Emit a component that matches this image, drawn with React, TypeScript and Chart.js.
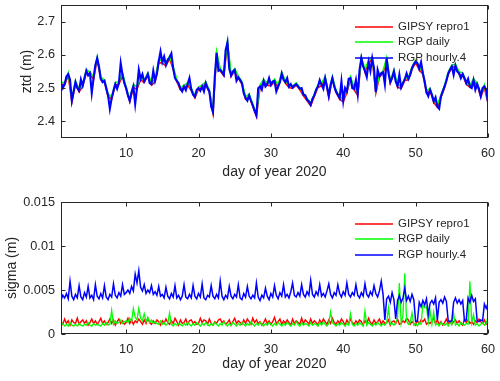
import React, { useEffect, useRef } from "react";
import { Chart, registerables } from "chart.js";

Chart.register(...registerables);

// ---------- data ----------
const DAY_START = 1;
const STEP_QUARTER = 0.25;
const STEP_HALF = 0.5;
const X_MIN = 1;
const X_MAX = 60;
const X_TICKS = [10, 20, 30, 40, 50, 60];
const X_TITLE = "day of year 2020";

const ZTD_MIN = 2.35;
const ZTD_MAX = 2.75;
const ZTD_TICKS = [2.4, 2.5, 2.6, 2.7];
const ZTD_TICK_LABELS = ["2.4", "2.5", "2.6", "2.7"];
const ZTD_TITLE = "ztd (m)";

const SIGMA_MIN = 0;
const SIGMA_MAX = 0.015;
const SIGMA_TICKS = [0, 0.005, 0.01, 0.015];
const SIGMA_TICK_LABELS = ["0", "0.005", "0.01", "0.015"];
const SIGMA_TITLE = "sigma (m)";

const SERIES_NAMES = ["GIPSY repro1", "RGP daily", "RGP hourly.4"];
const SERIES_COLORS = ["#ff0000", "#00ff00", "#0000ff"];

// ZTD, RGP hourly.4, every 0.25 day from day 1
const ztdHourly = [
  2.515, 2.500, 2.512, 2.535,
  2.542, 2.525, 2.462, 2.490,
  2.518, 2.500, 2.492, 2.526,
  2.508, 2.530, 2.552, 2.538,
  2.545, 2.485, 2.530, 2.570,
  2.590, 2.565, 2.528, 2.518,
  2.522, 2.500, 2.478, 2.438,
  2.470, 2.492, 2.512, 2.498,
  2.515, 2.575, 2.540, 2.515,
  2.500, 2.478, 2.462, 2.488,
  2.505, 2.452, 2.500, 2.555,
  2.528, 2.542, 2.520, 2.530,
  2.542, 2.515, 2.512, 2.552,
  2.522, 2.542, 2.580, 2.610,
  2.578, 2.595, 2.570, 2.585,
  2.592, 2.604, 2.560, 2.530,
  2.522, 2.515, 2.498, 2.490,
  2.505, 2.494, 2.512, 2.530,
  2.496, 2.480, 2.474, 2.495,
  2.500, 2.492, 2.505, 2.490,
  2.515, 2.500, 2.490, 2.445,
  2.428, 2.535, 2.606, 2.552,
  2.555, 2.548, 2.540, 2.615,
  2.637, 2.558, 2.538, 2.550,
  2.555, 2.522, 2.532, 2.525,
  2.515, 2.485, 2.470, 2.462,
  2.478, 2.462, 2.448, 2.432,
  2.418, 2.500, 2.505, 2.495,
  2.522, 2.505, 2.512, 2.530,
  2.510, 2.520, 2.522, 2.490,
  2.505, 2.518, 2.544, 2.525,
  2.518, 2.530, 2.505, 2.512,
  2.502, 2.508, 2.512, 2.505,
  2.498, 2.500, 2.480, 2.478,
  2.465, 2.460, 2.450, 2.468,
  2.478, 2.495, 2.505, 2.524,
  2.510, 2.498, 2.530, 2.505,
  2.476, 2.510, 2.530, 2.505,
  2.490, 2.480, 2.470, 2.520,
  2.462, 2.500, 2.490, 2.528,
  2.530, 2.500, 2.498, 2.524,
  2.482, 2.555, 2.590, 2.565,
  2.552, 2.534, 2.578, 2.552,
  2.590, 2.560, 2.488, 2.555,
  2.536, 2.545, 2.548, 2.512,
  2.588, 2.545, 2.518, 2.530,
  2.550, 2.520, 2.506, 2.540,
  2.502, 2.515, 2.526, 2.544,
  2.528, 2.540, 2.560, 2.572,
  2.580, 2.575, 2.558, 2.578,
  2.545, 2.520, 2.488, 2.476,
  2.495, 2.480, 2.460, 2.472,
  2.445, 2.438, 2.475, 2.490,
  2.505, 2.522, 2.544, 2.555,
  2.565, 2.540, 2.568, 2.550,
  2.545, 2.530, 2.542, 2.530,
  2.515, 2.528, 2.505, 2.500,
  2.524, 2.495, 2.512, 2.498,
  2.476, 2.500, 2.505, 2.495,
  2.458,
];

// ZTD, RGP daily, every 0.5 day from day 1
const ztdDaily = [
  2.518, 2.515, 2.546, 2.468, 2.521, 2.497, 2.513, 2.556, 2.548, 2.535,
  2.593, 2.532, 2.525, 2.483, 2.474, 2.516, 2.520, 2.546, 2.503, 2.466,
  2.510, 2.504, 2.532, 2.524, 2.546, 2.516, 2.527, 2.585, 2.582, 2.575,
  2.596, 2.564, 2.526, 2.502, 2.508, 2.516, 2.500, 2.478, 2.503, 2.509,
  2.518, 2.494, 2.433, 2.609, 2.559, 2.545, 2.641, 2.542, 2.558, 2.537,
  2.519, 2.474, 2.482, 2.452, 2.423, 2.509, 2.526, 2.516, 2.514, 2.527,
  2.509, 2.548, 2.522, 2.509, 2.506, 2.516, 2.502, 2.484, 2.469, 2.455,
  2.482, 2.509, 2.514, 2.535, 2.480, 2.534, 2.494, 2.474, 2.467, 2.494,
  2.534, 2.502, 2.486, 2.594, 2.556, 2.583, 2.594, 2.492, 2.540, 2.552,
  2.592, 2.522, 2.554, 2.510, 2.506, 2.530, 2.532, 2.564, 2.584, 2.562,
  2.549, 2.492, 2.499, 2.464, 2.449, 2.479, 2.509, 2.548, 2.569, 2.572,
  2.549, 2.546, 2.519, 2.509, 2.528, 2.516, 2.480, 2.509, 2.462,
];

// ZTD, GIPSY repro1, every 0.5 day from day 1
const ztdGipsy = [
  2.512, 2.509, 2.538, 2.458, 2.515, 2.489, 2.505, 2.548, 2.541, 2.527,
  2.586, 2.525, 2.519, 2.475, 2.466, 2.509, 2.512, 2.537, 2.497, 2.459,
  2.502, 2.497, 2.525, 2.517, 2.539, 2.509, 2.519, 2.577, 2.575, 2.567,
  2.589, 2.557, 2.519, 2.495, 2.502, 2.509, 2.493, 2.471, 2.497, 2.502,
  2.512, 2.487, 2.425, 2.603, 2.552, 2.537, 2.633, 2.535, 2.552, 2.529,
  2.512, 2.467, 2.475, 2.445, 2.415, 2.502, 2.519, 2.509, 2.507, 2.519,
  2.502, 2.541, 2.515, 2.502, 2.499, 2.509, 2.495, 2.477, 2.462, 2.447,
  2.475, 2.502, 2.507, 2.527, 2.473, 2.527, 2.487, 2.467, 2.459, 2.487,
  2.527, 2.495, 2.479, 2.587, 2.549, 2.575, 2.587, 2.485, 2.533, 2.545,
  2.585, 2.515, 2.547, 2.503, 2.499, 2.523, 2.525, 2.557, 2.577, 2.555,
  2.542, 2.485, 2.492, 2.457, 2.442, 2.472, 2.502, 2.541, 2.562, 2.565,
  2.542, 2.539, 2.512, 2.502, 2.521, 2.509, 2.473, 2.502, 2.455,
];

// sigma, RGP hourly.4, every 0.25 day from day 1
const sigmaHourly = [
  0.0038, 0.0044, 0.0041, 0.0046,
  0.0040, 0.0060, 0.0043, 0.0039,
  0.0045, 0.0041, 0.0055, 0.0042,
  0.0039, 0.0047, 0.0042, 0.0054,
  0.0041, 0.0044, 0.0039, 0.0056,
  0.0043, 0.0040, 0.0046, 0.0041,
  0.0055, 0.0042, 0.0039, 0.0045,
  0.0042, 0.0057, 0.0044, 0.0041,
  0.0047, 0.0043, 0.0056, 0.0045,
  0.0047, 0.0050, 0.0046, 0.0054,
  0.0049, 0.0068, 0.0058, 0.0072,
  0.0053, 0.0049, 0.0056, 0.0046,
  0.0050, 0.0047, 0.0055, 0.0045,
  0.0048, 0.0044, 0.0054, 0.0043,
  0.0045, 0.0041, 0.0053, 0.0043,
  0.0040, 0.0046, 0.0042, 0.0055,
  0.0041, 0.0044, 0.0039, 0.0043,
  0.0056, 0.0042, 0.0040, 0.0045,
  0.0041, 0.0055, 0.0043, 0.0040,
  0.0046, 0.0042, 0.0057, 0.0041,
  0.0039, 0.0044, 0.0042, 0.0055,
  0.0043, 0.0040, 0.0045, 0.0041,
  0.0060, 0.0043, 0.0039, 0.0044,
  0.0041, 0.0054, 0.0043, 0.0040,
  0.0045, 0.0042, 0.0056, 0.0041,
  0.0039, 0.0046, 0.0042, 0.0054,
  0.0043, 0.0040, 0.0044, 0.0041,
  0.0058, 0.0042, 0.0038, 0.0044,
  0.0041, 0.0052, 0.0043, 0.0039,
  0.0046, 0.0042, 0.0055, 0.0044,
  0.0040, 0.0047, 0.0043, 0.0056,
  0.0042, 0.0045, 0.0041, 0.0048,
  0.0058, 0.0044, 0.0042, 0.0047,
  0.0043, 0.0056, 0.0045, 0.0042,
  0.0048, 0.0044, 0.0061, 0.0045,
  0.0042, 0.0048, 0.0044, 0.0056,
  0.0043, 0.0046, 0.0042, 0.0049,
  0.0057, 0.0045, 0.0041, 0.0047,
  0.0044, 0.0056, 0.0046, 0.0042,
  0.0048, 0.0044, 0.0058, 0.0045,
  0.0042, 0.0047, 0.0044, 0.0056,
  0.0044, 0.0041, 0.0047, 0.0043,
  0.0057, 0.0045, 0.0042, 0.0048,
  0.0044, 0.0055, 0.0046, 0.0042,
  0.0049, 0.0060, 0.0045, 0.0016,
  0.0040, 0.0043, 0.0036, 0.0047,
  0.0039, 0.0017, 0.0038, 0.0044,
  0.0036, 0.0041, 0.0052, 0.0038,
  0.0043, 0.0037, 0.0045, 0.0039,
  0.0014, 0.0015, 0.0036, 0.0031,
  0.0038, 0.0033, 0.0040, 0.0022,
  0.0035, 0.0038, 0.0034, 0.0041,
  0.0016, 0.0036, 0.0039, 0.0035,
  0.0042, 0.0037, 0.0015, 0.0014,
  0.0015, 0.0036, 0.0041, 0.0035,
  0.0039, 0.0034, 0.0038, 0.0015,
  0.0016, 0.0041, 0.0036, 0.0044,
  0.0037, 0.0040, 0.0015, 0.0014,
  0.0016, 0.0015, 0.0034, 0.0029,
  0.0035,
];

// sigma, RGP daily, every 0.25 day from day 1
const sigmaDaily = [
  0.0010, 0.0012, 0.0009, 0.0011,
  0.0009, 0.0013, 0.0010, 0.0009,
  0.0011, 0.0009, 0.0012, 0.0010,
  0.0009, 0.0011, 0.0010, 0.0013,
  0.0010, 0.0009, 0.0012, 0.0010,
  0.0011, 0.0010, 0.0009, 0.0012,
  0.0010, 0.0013, 0.0010, 0.0011,
  0.0027, 0.0011, 0.0015, 0.0012,
  0.0013, 0.0016, 0.0012, 0.0014,
  0.0015, 0.0013, 0.0018, 0.0014,
  0.0029, 0.0019, 0.0016, 0.0029,
  0.0018, 0.0015, 0.0023, 0.0014,
  0.0019, 0.0013, 0.0016, 0.0012,
  0.0014, 0.0012, 0.0011, 0.0015,
  0.0011, 0.0013, 0.0010, 0.0012,
  0.0024, 0.0011, 0.0009, 0.0012,
  0.0010, 0.0012, 0.0011, 0.0009,
  0.0012, 0.0010, 0.0013, 0.0011,
  0.0009, 0.0012, 0.0010, 0.0013,
  0.0011, 0.0009, 0.0012, 0.0010,
  0.0013, 0.0011, 0.0009, 0.0012,
  0.0010, 0.0013, 0.0011, 0.0009,
  0.0012, 0.0010, 0.0014, 0.0011,
  0.0009, 0.0012, 0.0010, 0.0013,
  0.0011, 0.0009, 0.0012, 0.0010,
  0.0013, 0.0011, 0.0009, 0.0012,
  0.0010, 0.0014, 0.0011, 0.0009,
  0.0012, 0.0010, 0.0013, 0.0011,
  0.0009, 0.0012, 0.0010, 0.0013,
  0.0011, 0.0009, 0.0012, 0.0010,
  0.0013, 0.0011, 0.0009, 0.0012,
  0.0010, 0.0013, 0.0011, 0.0009,
  0.0012, 0.0010, 0.0014, 0.0011,
  0.0009, 0.0013, 0.0010, 0.0012,
  0.0011, 0.0009, 0.0013, 0.0010,
  0.0012, 0.0011, 0.0009, 0.0013,
  0.0010, 0.0014, 0.0011, 0.0009,
  0.0012, 0.0025, 0.0013, 0.0011,
  0.0009, 0.0012, 0.0010, 0.0013,
  0.0011, 0.0009, 0.0012, 0.0010,
  0.0023, 0.0011, 0.0009, 0.0012,
  0.0010, 0.0013, 0.0011, 0.0009,
  0.0026, 0.0010, 0.0013, 0.0011,
  0.0009, 0.0012, 0.0010, 0.0013,
  0.0011, 0.0009, 0.0012, 0.0010,
  0.0013, 0.0030, 0.0011, 0.0012,
  0.0010, 0.0013, 0.0018, 0.0058,
  0.0012, 0.0021, 0.0069, 0.0015,
  0.0011, 0.0013, 0.0024, 0.0010,
  0.0012, 0.0009, 0.0013, 0.0011,
  0.0033, 0.0030, 0.0031, 0.0013,
  0.0026, 0.0011, 0.0025, 0.0010,
  0.0012, 0.0009, 0.0013, 0.0011,
  0.0010, 0.0012, 0.0009, 0.0013,
  0.0011, 0.0023, 0.0010, 0.0012,
  0.0009, 0.0013, 0.0011, 0.0010,
  0.0012, 0.0011, 0.0060, 0.0013,
  0.0022, 0.0010, 0.0012, 0.0009,
  0.0011, 0.0013, 0.0010, 0.0012,
  0.0020,
];

// sigma, GIPSY repro1, every 0.25 day from day 1
const sigmaGipsy = [
  0.0014, 0.0011, 0.0017, 0.0012,
  0.0015, 0.0010, 0.0016, 0.0013,
  0.0012, 0.0018, 0.0011, 0.0014,
  0.0016, 0.0012, 0.0015, 0.0010,
  0.0013, 0.0017, 0.0012, 0.0015,
  0.0011, 0.0014, 0.0018, 0.0012,
  0.0015, 0.0011, 0.0013, 0.0017,
  0.0012, 0.0016, 0.0010, 0.0014,
  0.0017, 0.0012, 0.0015, 0.0011,
  0.0013, 0.0018, 0.0012, 0.0016,
  0.0011, 0.0015, 0.0013, 0.0017,
  0.0014, 0.0011, 0.0016, 0.0012,
  0.0018, 0.0013, 0.0011, 0.0015,
  0.0012, 0.0016, 0.0014, 0.0010,
  0.0015, 0.0012, 0.0017, 0.0013,
  0.0011, 0.0015, 0.0012, 0.0018,
  0.0014, 0.0010, 0.0016, 0.0012,
  0.0013, 0.0017, 0.0011, 0.0015,
  0.0016, 0.0012, 0.0014, 0.0011,
  0.0012, 0.0018, 0.0013, 0.0016,
  0.0015, 0.0011, 0.0017, 0.0012,
  0.0010, 0.0014, 0.0012, 0.0016,
  0.0017, 0.0013, 0.0015, 0.0011,
  0.0013, 0.0016, 0.0010, 0.0014,
  0.0018, 0.0012, 0.0015, 0.0013,
  0.0011, 0.0016, 0.0012, 0.0017,
  0.0014, 0.0011, 0.0018, 0.0013,
  0.0016, 0.0012, 0.0014, 0.0010,
  0.0013, 0.0017, 0.0012, 0.0015,
  0.0011, 0.0014, 0.0019, 0.0012,
  0.0014, 0.0017, 0.0011, 0.0015,
  0.0012, 0.0016, 0.0013, 0.0010,
  0.0017, 0.0012, 0.0015, 0.0013,
  0.0011, 0.0018, 0.0012, 0.0016,
  0.0014, 0.0011, 0.0017, 0.0012,
  0.0015, 0.0013, 0.0010, 0.0016,
  0.0012, 0.0017, 0.0014, 0.0011,
  0.0016, 0.0012, 0.0018, 0.0013,
  0.0011, 0.0015, 0.0012, 0.0017,
  0.0014, 0.0010, 0.0016, 0.0012,
  0.0017, 0.0013, 0.0011, 0.0015,
  0.0012, 0.0016, 0.0014, 0.0010,
  0.0015, 0.0012, 0.0018, 0.0013,
  0.0011, 0.0016, 0.0012, 0.0014,
  0.0017, 0.0011, 0.0015, 0.0012,
  0.0013, 0.0016, 0.0010, 0.0014,
  0.0015, 0.0012, 0.0017, 0.0011,
  0.0012, 0.0015, 0.0013, 0.0018,
  0.0016, 0.0011, 0.0014, 0.0012,
  0.0010, 0.0015, 0.0012, 0.0016,
  0.0014, 0.0017, 0.0011, 0.0013,
  0.0012, 0.0015, 0.0018, 0.0012,
  0.0016, 0.0011, 0.0014, 0.0010,
  0.0013, 0.0017, 0.0012, 0.0015,
  0.0011, 0.0014, 0.0016, 0.0012,
  0.0015, 0.0012, 0.0010, 0.0017,
  0.0013, 0.0016, 0.0012, 0.0014,
  0.0011, 0.0015, 0.0013, 0.0017,
  0.0014, 0.0012, 0.0016, 0.0011,
  0.0013,
];

// ---------- styling ----------
const FONT = "'Liberation Sans', Arial, Helvetica, sans-serif";
const INK = "#262626";
const W = 500;

type Pt = { x: number; y: number };
const toPoints = (vals: number[], step: number): Pt[] =>
  vals.map((y, i) => ({ x: DAY_START + i * step, y }));

const framePlugin = {
  id: "matlabFrame",
  afterDatasetsDraw(chart: any) {
    const { ctx, chartArea: a, scales } = chart;
    const L = Math.round(a.left) + 0.5;
    const R = Math.round(a.right) - 0.5;
    const T = Math.round(a.top) + 0.5;
    const B = Math.round(a.bottom) - 0.5;
    ctx.save();
    ctx.strokeStyle = INK;
    ctx.lineWidth = 1;
    ctx.strokeRect(L, T, R - L, B - T);
    const tl = 4;
    ctx.beginPath();
    for (const t of scales.x.ticks) {
      const px = Math.round(scales.x.getPixelForValue(t.value)) + 0.5;
      ctx.moveTo(px, B);
      ctx.lineTo(px, B - tl);
      ctx.moveTo(px, T);
      ctx.lineTo(px, T + tl);
    }
    for (const t of scales.y.ticks) {
      const py = Math.round(scales.y.getPixelForValue(t.value)) + 0.5;
      ctx.moveTo(L, py);
      ctx.lineTo(L + tl, py);
      ctx.moveTo(R, py);
      ctx.lineTo(R - tl, py);
    }
    ctx.stroke();
    ctx.restore();
  },
  afterDraw(chart: any) {
    const { ctx, chartArea: a } = chart;
    ctx.save();
    ctx.font = `11.5px ${FONT}`;
    ctx.textBaseline = "middle";
    ctx.textAlign = "left";
    ctx.setLineDash([]);
    for (let i = 0; i < SERIES_NAMES.length; i++) {
      const y = Math.round(a.top + 22 + i * 15.3);
      ctx.beginPath();
      ctx.strokeStyle = SERIES_COLORS[i];
      ctx.lineWidth = 1.5;
      ctx.moveTo(a.right - 133, y);
      ctx.lineTo(a.right - 95, y);
      ctx.stroke();
      ctx.fillStyle = INK;
      ctx.fillText(SERIES_NAMES[i], a.right - 90, y);
    }
    ctx.restore();
  },
};

function buildConfig(p: {
  red: Pt[];
  green: Pt[];
  blue: Pt[];
  widths: number[];
  yMin: number;
  yMax: number;
  yTicks: number[];
  yLabels: string[];
  yTitle: string;
  yTitlePad: number;
  topPad: number;
  xAxisHeight: number;
  xTitlePad: number;
}): any {
  const ds = (label: string, data: Pt[], color: string, order: number, width: number) => ({
    label,
    data,
    borderColor: color,
    backgroundColor: color,
    borderWidth: width,
    pointRadius: 0,
    fill: false,
    tension: 0,
    order,
  });
  return {
    type: "line",
    data: {
      datasets: [
        ds(SERIES_NAMES[0], p.red, SERIES_COLORS[0], 3, p.widths[0]),
        ds(SERIES_NAMES[1], p.green, SERIES_COLORS[1], 2, p.widths[1]),
        ds(SERIES_NAMES[2], p.blue, SERIES_COLORS[2], 1, p.widths[2]),
      ],
    },
    options: {
      animation: false,
      responsive: false,
      maintainAspectRatio: false,
      parsing: false,
      normalized: true,
      events: [],
      layout: { padding: { left: 0, right: 12, top: p.topPad, bottom: 0 } },
      plugins: { legend: { display: false }, tooltip: { enabled: false }, title: { display: false } },
      scales: {
        x: {
          type: "linear",
          min: X_MIN,
          max: X_MAX,
          afterBuildTicks: (s: any) => {
            s.ticks = X_TICKS.map((v) => ({ value: v }));
          },
          afterFit: (s: any) => {
            s.height = p.xAxisHeight;
            s.paddingLeft = 0;
            s.paddingRight = 0;
          },
          grid: { display: false, drawTicks: false },
          border: { display: false },
          ticks: {
            autoSkip: false,
            maxRotation: 0,
            padding: 8,
            color: INK,
            font: { family: FONT, size: 12.7 },
            callback: (v: number) => String(v),
          },
          title: {
            display: true,
            text: X_TITLE,
            color: INK,
            font: { family: FONT, size: 14 },
            padding: { top: 0, bottom: p.xTitlePad },
          },
        },
        y: {
          type: "linear",
          min: p.yMin,
          max: p.yMax,
          afterBuildTicks: (s: any) => {
            s.ticks = p.yTicks.map((v) => ({ value: v }));
          },
          afterFit: (s: any) => {
            s.width = 61;
            s.paddingTop = 0;
            s.paddingBottom = 0;
          },
          grid: { display: false, drawTicks: false },
          border: { display: false },
          ticks: {
            autoSkip: false,
            padding: 6,
            color: INK,
            font: { family: FONT, size: 12.7 },
            callback: (_v: number, i: number) => p.yLabels[i],
          },
          title: {
            display: true,
            text: p.yTitle,
            color: INK,
            font: { family: FONT, size: 14 },
            padding: { top: p.yTitlePad, bottom: 0 },
          },
        },
      },
    },
    plugins: [framePlugin],
  };
}

function SubPlot({ top, height, make }: { top: number; height: number; make: () => any }) {
  const ref = useRef<HTMLCanvasElement>(null);
  useEffect(() => {
    if (!ref.current) return;
    const chart = new Chart(ref.current, make());
    return () => chart.destroy();
  }, []);
  return (
    <canvas
      ref={ref}
      width={W}
      height={height}
      style={{ position: "absolute", left: 0, top, width: W, height, display: "block" }}
    />
  );
}

export default function App() {
  const makeTop = () =>
    buildConfig({
      red: toPoints(ztdGipsy, STEP_HALF),
      green: toPoints(ztdDaily, STEP_HALF),
      blue: toPoints(ztdHourly, STEP_QUARTER),
      widths: [1.6, 1.6, 2.1],
      yMin: ZTD_MIN,
      yMax: ZTD_MAX,
      yTicks: ZTD_TICKS,
      yLabels: ZTD_TICK_LABELS,
      yTitle: ZTD_TITLE,
      yTitlePad: 18.5,
      topPad: 5,
      xAxisHeight: 52,
      xTitlePad: 9.5,
    });
  const makeBottom = () =>
    buildConfig({
      red: toPoints(sigmaGipsy, STEP_QUARTER),
      green: toPoints(sigmaDaily, STEP_QUARTER),
      blue: toPoints(sigmaHourly, STEP_QUARTER),
      widths: [1.4, 1.3, 1.5],
      yMin: SIGMA_MIN,
      yMax: SIGMA_MAX,
      yTicks: SIGMA_TICKS,
      yLabels: SIGMA_TICK_LABELS,
      yTitle: SIGMA_TITLE,
      yTitlePad: 4,
      topPad: 12,
      xAxisHeight: 47,
      xTitlePad: 8.7,
    });
  return (
    <div
      style={{
        position: "fixed",
        left: 0,
        top: 0,
        width: W,
        height: 381,
        background: "#ffffff",
        overflow: "hidden",
      }}
    >
      <SubPlot top={0} height={190} make={makeTop} />
      <SubPlot top={190} height={191} make={makeBottom} />
    </div>
  );
}
